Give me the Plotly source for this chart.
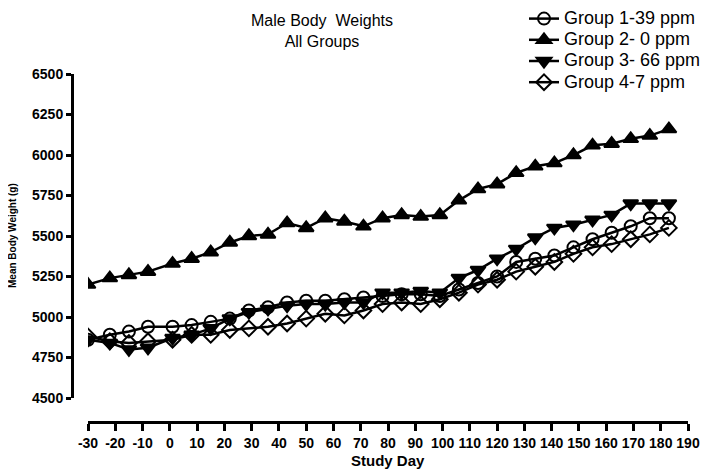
import plotly.graph_objects as go

days = [-30, -22, -15, -8, 1, 8, 15, 22, 29, 36, 43, 50, 57, 64, 71, 78, 85, 92, 99,
        106, 113, 120, 127, 134, 141, 148, 155, 162, 169, 176, 183]

group1 = [4860, 4890, 4910, 4940, 4940, 4950, 4970, 4990, 5040, 5060, 5090, 5100, 5100, 5110,
          5120, 5130, 5140, 5140, 5130, 5170, 5210, 5250, 5340, 5360, 5380, 5430, 5480, 5520,
          5560, 5610, 5610]
group2 = [5200, 5240, 5260, 5280, 5330, 5360, 5400, 5460, 5500, 5510, 5580, 5550, 5610, 5590,
          5560, 5610, 5630, 5620, 5630, 5720, 5790, 5820, 5890, 5930, 5950, 6000, 6060, 6070,
          6100, 6120, 6160]
group3 = [4860, 4840, 4800, 4810, 4870, 4890, 4930, 4990, 5030, 5050, 5070, 5080, 5080, 5090,
          5090, 5150, 5150, 5160, 5150, 5240, 5290, 5360, 5420, 5490, 5550, 5570, 5600, 5630,
          5700, 5700, 5700]
group4 = [4880, 4850, 4840, 4850, 4860, 4890, 4890, 4920, 4930, 4940, 4960, 4990, 5020, 5010,
          5040, 5080, 5090, 5080, 5110, 5150, 5200, 5230, 5280, 5310, 5340, 5390, 5430, 5450,
          5480, 5510, 5550]

names = ["Group 1-39 ppm", "Group 2- 0 ppm", "Group 3- 66 ppm", "Group 4-7 ppm"]
x_ticks = list(range(-30, 191, 10))
y_ticks = list(range(4500, 6501, 250))

W, H = 708, 470
OFF = 8  # page body margin


def px(x):
    return (x - OFF) / W


def py(y):
    return 1 - (y - OFF) / H


fig = go.Figure()

series = [
    (group1, "circle-open", 12),
    (group2, "triangle-up", 13),
    (group3, "triangle-down", 13),
    (group4, "diamond-open", 12),
]
for (vals, sym, sz), nm in zip(series, names):
    fig.add_trace(go.Scatter(
        x=days, y=vals, name='<span style="font-size:18px">' + nm + '</span>',
        mode="lines+markers",
        line=dict(color="black", width=2.5),
        marker=dict(symbol=sym, size=sz, color="black",
                    line=dict(color="black", width=2)),
    ))

fig.update_layout(
    width=W, height=H,
    margin=dict(l=0, r=0, t=0, b=0, autoexpand=False),
    plot_bgcolor="white", paper_bgcolor="white",
    font=dict(family="Liberation Sans, Arial, sans-serif", color="black"),
    showlegend=True,
    legend=dict(x=px(524), y=py(3), xanchor="left", yanchor="top",
                font=dict(size=14, color="black"), itemwidth=30,
                tracegroupgap=0, bgcolor="rgba(0,0,0,0)"),
    xaxis=dict(
        domain=[px(88), px(688)], range=[-30, 190],
        anchor="free", position=py(422), automargin=False,
        tickmode="array", tickvals=x_ticks, ticktext=[str(t) for t in x_ticks],
        tickangle=0,
        ticks="outside", ticklen=7, tickwidth=2.5, tickcolor="black",
        showline=True, linecolor="black", linewidth=3,
        showgrid=False, zeroline=False,
        tickfont=dict(family="Liberation Sans, Arial", size=14, color="black", weight="bold"),
    ),
    yaxis=dict(
        domain=[py(398), py(74)], range=[4500, 6500],
        anchor="free", position=px(72), automargin=False,
        tickmode="array", tickvals=y_ticks, ticktext=[str(t) for t in y_ticks],
        ticks="outside", ticklen=5, tickwidth=2.5, tickcolor="black",
        showline=True, linecolor="black", linewidth=3,
        showgrid=False, zeroline=False,
        tickfont=dict(family="Liberation Sans, Arial", size=14, color="black", weight="bold"),
    ),
    annotations=[
        dict(text="Male Body  Weights<br>All Groups", x=px(322), y=py(10),
             xref="paper", yref="paper", xanchor="center", yanchor="top",
             showarrow=False, font=dict(size=16, color="black"), align="center"),
        dict(text="<b>Study Day</b>", x=px(388), y=py(460),
             xref="paper", yref="paper", xanchor="center", yanchor="middle",
             showarrow=False, font=dict(size=15, color="black")),
        dict(text="<b>Mean Body Weight (g)</b>", x=px(12), y=py(236),
             xref="paper", yref="paper", xanchor="center", yanchor="middle",
             textangle=-90, showarrow=False, font=dict(size=10, color="black")),
    ],
)

fig.write_html("out.html")
